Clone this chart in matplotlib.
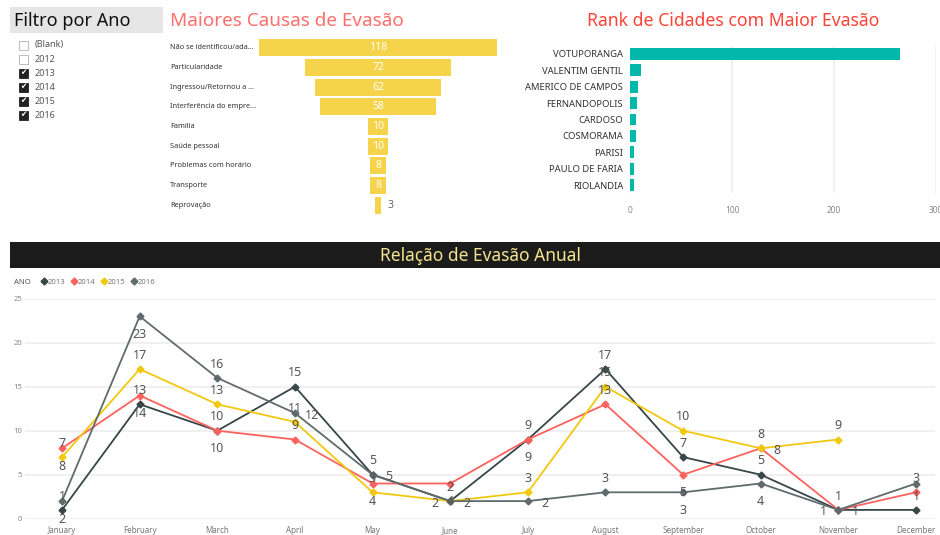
import matplotlib
matplotlib.use("Agg")
import matplotlib.pyplot as plt
import numpy as np
from matplotlib.patches import Rectangle
from matplotlib.lines import Line2D

plt.rcParams["font.family"] = ["Noto Sans", "DejaVu Sans"]

W, H = 940, 535

# slicer
SLICER_TITLE = "Filtro por Ano"
SLICER_ITEMS = ["(Blank)", "2012", "2013", "2014", "2015", "2016"]
SLICER_CHECKED = [False, False, True, True, True, True]

# funnel: main causes
CAUSES = [
    "Não se identificou/ada...",
    "Particularidade",
    "Ingressou/Retornou a ...",
    "Interferência do empre...",
    "Família",
    "Saúde pessoal",
    "Problemas com horário",
    "Transporte",
    "Reprovação",
]
CAUSE_COUNTS = [118, 72, 62, 58, 10, 10, 8, 8, 3]

# city ranking
CITIES = [
    "VOTUPORANGA", "VALENTIM GENTIL", "AMERICO DE CAMPOS", "FERNANDOPOLIS",
    "CARDOSO", "COSMORAMA", "PARISI", "PAULO DE FARIA", "RIOLANDIA",
]
CITY_COUNTS = [265, 11, 8, 7, 6, 6, 4, 4, 4]
CITY_TICKS = [0, 100, 200, 300]

# yearly evasion by month
MONTHS = ["January", "February", "March", "April", "May", "June", "July",
          "August", "September", "October", "November", "December"]
YEARS = ["2013", "2014", "2015", "2016"]
EVASAO_2013 = [1, 13, 10, 15, 5, 2, 9, 17, 7, 5, 1, 1]
EVASAO_2014 = [8, 14, 10, 9, 4, 4, 9, 13, 5, 8, 1, 3]
EVASAO_2015 = [7, 17, 13, 11, 3, 2, 3, 15, 10, 8, 9, np.nan]
EVASAO_2016 = [2, 23, 16, 12, 5, 2, 2, 3, 3, 4, 1, 4]
Y_TICKS = [0, 5, 10, 15, 20, 25]

YEAR_COLORS = ["#374649", "#FD625E", "#F2C80F", "#5F6B6D"]
# where each data label sits: a=above, b=below, r=right, l=left, -=hidden
LABEL_SIDE = ["aaaaaaaaaara", "bbbabbbabrla", "aaaaalaaaaa-", "bbarrrrabba-"]
SIDE_OFFSET = {"a": (0, 10), "b": (0, -13), "r": (12, -1.5), "l": (-11, -1.5)}


def px_axes(fig, x0, y0, x1, y1):
    return fig.add_axes([x0 / W, 1 - y1 / H, (x1 - x0) / W, (y1 - y0) / H])


def draw_slicer(fig):
    fig.add_artist(Rectangle((10 / W, 1 - 33 / H), 153 / W, 26 / H,
                             transform=fig.transFigure, color="#E6E6E6", lw=0))
    fig.text(14 / W, 1 - 20.5 / H, SLICER_TITLE, fontsize=13, color="#111111",
             va="center", ha="left")
    for i, (item, checked) in enumerate(zip(SLICER_ITEMS, SLICER_CHECKED)):
        yc = 45 + 14 * i
        if checked:
            fig.add_artist(Rectangle((19 / W, 1 - (yc + 4.5) / H), 9 / W, 9 / H,
                                     transform=fig.transFigure, facecolor="#222222",
                                     edgecolor="#222222", lw=0.6))
            fig.text(23.5 / W, 1 - yc / H, "✔", fontsize=5.5, color="white",
                     ha="center", va="center", family="DejaVu Sans")
        else:
            fig.add_artist(Rectangle((19 / W, 1 - (yc + 4.5) / H), 9 / W, 9 / H,
                                     transform=fig.transFigure, facecolor="white",
                                     edgecolor="#BBBBBB", lw=0.7))
        fig.text(35 / W, 1 - yc / H, item, fontsize=6.5, color="#555555",
                 ha="left", va="center")


def draw_funnel(fig):
    fig.text(170 / W, 1 - 21 / H, "Maiores Causas de Evasão", fontsize=13.6,
             color="#FF6F6B", ha="left", va="center")
    ax = px_axes(fig, 255, 38, 501, 215)
    counts = np.array(CAUSE_COUNTS, dtype=float)
    y = np.arange(len(CAUSES))
    ax.barh(y, counts, left=-counts / 2, height=0.86, color="#F5D34A")
    ax.set_xlim(-61, 61)
    ax.set_ylim(len(CAUSES) - 0.5, -0.5)
    ax.axis("off")
    for yi, (name, v) in enumerate(zip(CAUSES, counts)):
        ax.text(-0.345, yi, name, transform=ax.get_yaxis_transform(),
                fontsize=5.3, color="#333333", ha="left", va="center")
        if v >= 8:
            ax.text(0, yi, f"{v:.0f}", fontsize=7.5, color="white",
                    fontweight="bold", ha="center", va="center")
        else:
            ax.text(v / 2 + 3, yi, f"{v:.0f}", fontsize=7.5, color="#666666",
                    ha="left", va="center")


def draw_rank(fig):
    fig.text(587 / W, 1 - 21 / H, "Rank de Cidades com Maior Evasão", fontsize=12.7,
             color="#FF4338", ha="left", va="center")
    ax = px_axes(fig, 630, 45.8, 936, 193.2)
    y = np.arange(len(CITIES))
    ax.barh(y, CITY_COUNTS, height=0.73, color="#01B8AA", zorder=3)
    ax.set_xlim(0, 300)
    ax.set_ylim(len(CITIES) - 0.5, -0.5)
    ax.set_yticks(y)
    ax.set_yticklabels(CITIES, fontsize=6.8, color="#333333")
    ax.set_xticks(CITY_TICKS)
    ax.set_xticklabels([str(t) for t in CITY_TICKS], fontsize=6, color="#888888")
    ax.tick_params(length=0, pad=5)
    ax.tick_params(axis="x", pad=9)
    ax.grid(axis="x", color="#EEEEEE", lw=1.2, zorder=0)
    for s in ax.spines.values():
        s.set_visible(False)


def draw_lines(fig):
    fig.add_artist(Rectangle((10 / W, 1 - 268 / H), 930 / W, 26 / H,
                             transform=fig.transFigure, color="#1B1B1B", lw=0))
    fig.text(480 / W, 1 - 256 / H, "Relação de Evasão Anual", fontsize=12.5,
             color="#F3E38C", ha="center", va="center")

    ax = px_axes(fig, 25, 298.7, 935, 518.7)
    x = np.arange(len(MONTHS))
    series = [EVASAO_2013, EVASAO_2014, EVASAO_2015, EVASAO_2016]
    for vals, color, sides in zip(series, YEAR_COLORS, LABEL_SIDE):
        ax.plot(x, vals, color=color, lw=1.3, marker="D", markersize=3.5,
                clip_on=False, zorder=3)
        for xi, v, side in zip(x, vals, sides):
            if side == "-" or np.isnan(v):
                continue
            dx, dy = SIDE_OFFSET[side]
            ax.annotate(f"{v:.0f}", (xi, v), xytext=(dx, dy),
                        textcoords="offset points", ha="center", va="center",
                        fontsize=9, color="#555555", zorder=4)
    ax.set_xlim(-0.477, 11.245)
    ax.set_ylim(0, 25)
    ax.set_yticks(Y_TICKS)
    ax.set_yticklabels([str(t) for t in Y_TICKS], fontsize=5.5, color="#888888")
    ax.set_xticks(x)
    ax.set_xticklabels(MONTHS, fontsize=5.8, color="#777777")
    ax.tick_params(length=0)
    ax.tick_params(axis="y", pad=2)
    ax.tick_params(axis="x", pad=5)
    ax.grid(axis="y", color="#EDEDED", lw=1.2, zorder=0)
    for s in ax.spines.values():
        s.set_visible(False)

    fig.text(14 / W, 1 - 282 / H, "ANO", fontsize=5.5, color="#555555",
             fontweight="bold", ha="left", va="center")
    handles = [Line2D([], [], marker="D", linestyle="none", color=c, markersize=3.5)
               for c in YEAR_COLORS]
    fig.legend(handles, YEARS, loc="center left", bbox_to_anchor=(38 / W, 1 - 282 / H),
               ncol=4, frameon=False, fontsize=5.5, handlelength=0.6,
               handletextpad=0.2, columnspacing=0.8, borderpad=0, labelcolor="#777777")


def main():
    fig = plt.figure(figsize=(W / 100, H / 100), dpi=100)
    draw_slicer(fig)
    draw_funnel(fig)
    draw_rank(fig)
    draw_lines(fig)
    fig.savefig("out.png", dpi=100)
    plt.close(fig)


if __name__ == "__main__":
    main()
